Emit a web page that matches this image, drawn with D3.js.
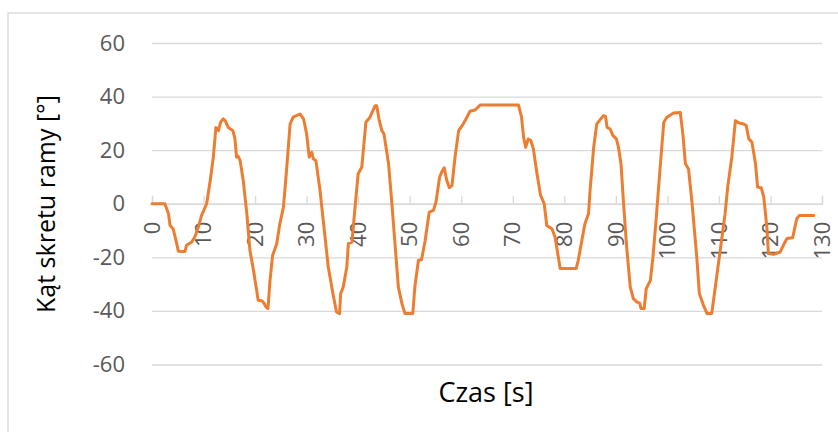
<!DOCTYPE html>
<html>
<head>
<meta charset="utf-8">
<script src="https://cdn.jsdelivr.net/npm/d3@7"></script>
<style>
  html, body { margin: 0; padding: 0; background: #fff; }
  svg { display: block; }
  text { font-family: "Open Sans", "Noto Sans", sans-serif; }
</style>
</head>
<body>
<svg id="chart" width="838" height="432"></svg>
<script>
// Czas [s]
const time = [
  0, 2.5, 3.2, 3.5, 4.1, 4.8, 5.1, 6.4, 6.7, 7.7, 8.3, 9.0, 9.6, 10.6, 11.3, 11.9,
  12.4, 12.9, 13.3, 13.8, 14.2, 14.8, 15.7, 16.1, 16.4, 16.7, 17.1, 17.7, 18.4, 19.0,
  19.7, 20.2, 20.6, 21.3, 21.7, 22.1, 22.5, 22.9, 23.4, 24.2, 24.8, 25.5, 26.1, 26.8,
  27.4, 28.7, 29.4, 30.0, 30.5, 31.0, 31.3, 31.8, 32.6, 33.3, 34.2, 35.1, 35.8, 36.4,
  36.6, 37.1, 37.8, 38.1, 38.8, 39.4, 40.0, 40.7, 41.5, 42.3, 43.3, 43.6, 44.1, 44.6,
  45.0, 45.9, 46.5, 47.2, 47.8, 48.5, 49.1, 50.6, 51.0, 51.7, 52.3, 53.0, 53.8, 54.6,
  55.1, 55.8, 56.2, 56.7, 57.2, 57.7, 58.2, 58.8, 59.5, 60.4, 61.1, 61.7, 62.7, 63.7,
  71.1, 71.7, 72.1, 72.5, 73.0, 73.5, 74.0, 74.7, 75.4, 76.1, 76.6, 77.6, 78.2, 79.2,
  82.3, 82.7, 83.4, 84.0, 84.7, 85.0, 85.7, 86.3, 87.0, 87.6, 88.0, 88.3, 88.9, 89.4,
  90.1, 90.5, 91.0, 91.5, 92.1, 92.8, 93.4, 94.1, 94.6, 94.9, 95.5, 95.9, 96.7, 97.2,
  97.8, 98.5, 99.3, 99.9, 101.2, 102.5, 103.0, 103.5, 104.1, 104.8, 105.7, 106.2, 107.0,
  107.7, 108.6, 109.3, 109.9, 110.6, 111.2, 111.7, 112.5, 113.2, 113.8, 114.8, 115.3,
  115.8, 116.4, 117.1, 117.5, 118.2, 118.7, 119.3, 119.6, 120.6, 121.9, 122.5, 123.2,
  124.3, 125.1, 125.6, 128.4
];

// Kąt skretu ramy [°]
const angle = [
  0, 0, -3.7, -8.1, -9.3, -14.9, -17.7, -17.8, -15.5, -14.3, -12.4, -8.7, -4.4, 0, 8.7, 17.4,
  28.5, 27.3, 30.4, 31.7, 31.0, 28.5, 27.3, 24.2, 17.4, 17.8, 16.1, 8.7, -3.7, -17.4,
  -24.9, -31.1, -36.0, -36.2, -37.0, -38.5, -39.1, -28.6, -19.3, -14.9, -7.5, -1.3, 12.4, 29.8,
  32.3, 33.5, 31.7, 26.1, 17.4, 19.2, 16.8, 16.1, 5.0, -7.5, -23.6, -33.5, -40.4, -41.0,
  -33.5, -31.1, -23.6, -14.9, -14.3, -1.3, 11.2, 13.6, 30.4, 32.3, 36.6, 36.6, 31.0, 27.3,
  26.1, 14.9, 1.2, -16.2, -31.1, -37.3, -41.0, -41.0, -31.1, -21.1, -20.9, -13.7, -3.1, -2.5,
  0.6, 9.9, 11.8, 13.4, 8.7, 6.0, 6.8, 17.4, 27.3, 29.8, 32.3, 34.5, 35.0, 36.9,
  36.9, 32.3, 24.8, 21.1, 24.2, 23.6, 20.5, 11.2, 3.1, 0, -8.1, -9.3, -12.4, -24.2,
  -24.2, -21.1, -13.7, -7.5, -3.7, 5.0, 21.1, 29.8, 31.5, 32.9, 32.6, 28.5, 27.9, 25.5,
  24.2, 21.1, 14.9, 0, -16.2, -31.1, -35.4, -36.7, -37.0, -39.1, -39.1, -31.7, -28.6, -19.9,
  -6.2, 11.2, 30.4, 32.3, 33.9, 34.1, 26.1, 14.9, 13.0, 0, -19.9, -33.5, -37.9,
  -41.0, -41.0, -31.1, -22.4, -12.4, -3.7, 6.2, 17.4, 31.0, 30.2, 29.8, 29.2,
  24.2, 23.0, 14.9, 6.2, 6.0, 2.5, -8.7, -18.6, -18.9, -18.0, -15.5, -13.0,
  -12.7, -5.6, -4.4, -4.4
];

const xTicks = d3.range(0, 131, 10);
const yTicks = [-60, -40, -20, 0, 20, 40, 60];

const svg = d3.select("#chart");
const W = 838, H = 432;
const plot = { left: 152, right: 822, top: 43, bottom: 364.5 };

// chart frame
svg.append("rect")
  .attr("x", 8).attr("y", 13)
  .attr("width", W + 20).attr("height", H + 20)
  .attr("fill", "#fff")
  .attr("stroke", "#d9d9d9").attr("stroke-width", 1.3);

const x = d3.scaleLinear().domain([0, 130]).range([plot.left, plot.right]);
const y = d3.scaleLinear().domain([-60, 60]).range([plot.bottom, plot.top]);

// horizontal gridlines + value labels
const yAxis = d3.axisLeft(y).tickValues(yTicks).tickSize(-(plot.right - plot.left)).tickPadding(27).tickFormat(d3.format("d"));
const gy = svg.append("g").attr("transform", `translate(${plot.left},0)`).call(yAxis);
gy.select(".domain").remove();
gy.selectAll(".tick line").attr("stroke", "#d9d9d9").attr("stroke-width", 1.3);
gy.selectAll(".tick text")
  .attr("fill", "#595959")
  .style("font-size", "22px")
  .text(d => d < 0 ? "-" + Math.abs(d) : d);

// horizontal axis through zero with upward tick marks
const xAxis = d3.axisTop(x).tickValues(xTicks).tickSize(8).tickFormat("");
const gx = svg.append("g").attr("transform", `translate(0,${y(0)})`).call(xAxis);
gx.select(".domain").attr("stroke", "#d9d9d9").attr("stroke-width", 1.3);
gx.selectAll(".tick line").attr("stroke", "#d9d9d9").attr("stroke-width", 1.3);

// rotated category labels below the zero line
svg.append("g").selectAll("text")
  .data(xTicks)
  .join("text")
  .attr("transform", d => `translate(${x(d)},${y(0) + 18}) rotate(-90)`)
  .attr("text-anchor", "end")
  .attr("dy", "0.35em")
  .attr("fill", "#595959")
  .style("font-size", "22px")
  .text(d => d);

// data line
const line = d3.line()
  .x((d, i) => x(time[i]))
  .y(d => y(d));

svg.append("path")
  .datum(angle)
  .attr("fill", "none")
  .attr("stroke", "#ed7d31")
  .attr("stroke-width", 3)
  .attr("stroke-linejoin", "round")
  .attr("stroke-linecap", "round")
  .attr("d", line);

// axis titles
svg.append("text")
  .attr("transform", `translate(55,204) rotate(-90)`)
  .attr("text-anchor", "middle")
  .attr("fill", "#000")
  .style("font-size", "25px")
  .text("Kąt skretu ramy [°]");

svg.append("text")
  .attr("x", 486).attr("y", 402)
  .attr("text-anchor", "middle")
  .attr("fill", "#000")
  .style("font-size", "27px")
  .text("Czas [s]");
</script>
</body>
</html>
